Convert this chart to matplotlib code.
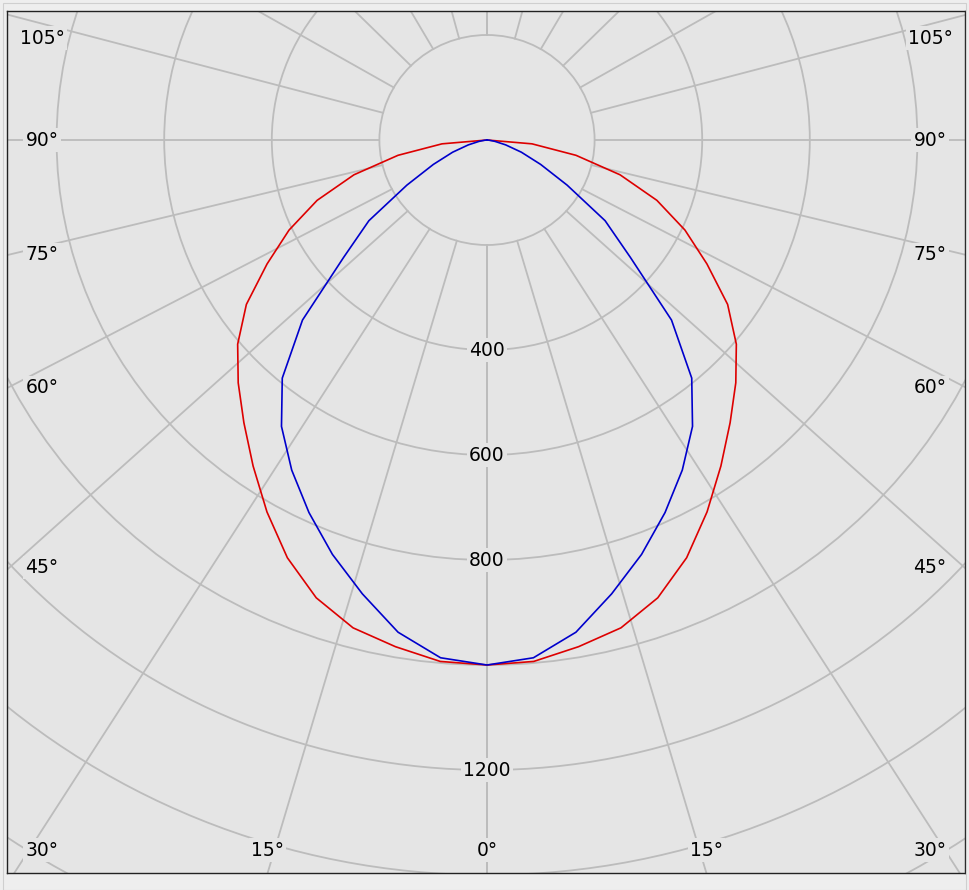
import numpy as np
import matplotlib.pyplot as plt
from matplotlib.patches import Ellipse, Rectangle

# luminous intensity (cd) per gamma angle
gamma = [0, 5, 10, 15, 20, 25, 30, 35, 40, 45, 50, 55, 60, 65, 70, 75, 80, 85, 90]
red_cd = [1000, 997, 980, 962, 928, 878, 818, 758, 703, 654, 605, 546, 472, 406, 336, 256, 168, 84, 0]
blue_cd = [1000, 990, 952, 895, 840, 783, 726, 666, 592, 485, 348, 268, 172, 110, 68, 36, 15, 4, 0]

ring_cd = [200, 400, 600, 800, 1000, 1200, 1400, 1600, 1800, 2000]
ring_labels = [400, 600, 800, 1200]
spoke_deg = [0, 15, 30, 45, 60, 75, 90, 105, 120, 135, 150, 165, 180]
label_deg = [0, 15, 30, 45, 60, 75, 90, 105]

BG = '#e5e5e5'
GRID = '#bcbcbc'
PXY = 0.525  # pixels per cd, vertical
PXX = 0.538  # pixels per cd, horizontal (reference is a touch wider)

fig = plt.figure(figsize=(9.69, 8.90), dpi=100, facecolor='#eeeeee')
ax = fig.add_axes([7 / 969, 17 / 890, 958 / 969, 862 / 890])
ax.set_facecolor(BG)
x0, x1 = -480 / PXX, 478 / PXX
y0, y1 = -733 / PXY, 129 / PXY
ax.set_xlim(x0, x1)
ax.set_ylim(y0, y1)
ax.set_xticks([])
ax.set_yticks([])
for s in ax.spines.values():
    s.set_color('#222222')
    s.set_linewidth(1.0)

# outer thin border of the window
fig.patches.append(Rectangle((3 / 969, 0), 1 - 6 / 969, 1 - 3 / 890, transform=fig.transFigure,
                             fill=False, edgecolor='#cfcfcf', linewidth=0.8))


def spoke_angle(a):
    # lower spokes are drawn a bit splayed in the reference
    if 0 < a < 90:
        return np.degrees(np.arctan(1.09 * np.tan(np.radians(a))))
    return a


for r in ring_cd:
    ax.add_patch(Ellipse((0, 0), 2 * r, 2 * r, fill=False, edgecolor=GRID, linewidth=1.3, zorder=1))

for a in spoke_deg:
    t = np.radians(spoke_angle(a))
    for sgn in (1, -1):
        ax.plot([sgn * 200 * np.sin(t), sgn * 3000 * np.sin(t)],
                [-200 * np.cos(t), -3000 * np.cos(t)], color=GRID, lw=1.3, zorder=1)

# curves, mirrored for the left half
g = np.radians(np.array(gamma, dtype=float))
for vals, col in ((red_cd, '#dd0000'), (blue_cd, '#0000cc')):
    v = np.array(vals, dtype=float)
    xs = np.concatenate([-v[::-1] * np.sin(g[::-1]), v[1:] * np.sin(g[1:])])
    ys = np.concatenate([-v[::-1] * np.cos(g[::-1]), -v[1:] * np.cos(g[1:])])
    ax.plot(xs, ys, color=col, lw=1.2, zorder=3)

box = dict(facecolor=BG, edgecolor='none', pad=1.5)
fs = 13.5

for r in ring_labels:
    ax.text(0, -r, str(r), ha='center', va='center', fontsize=fs, bbox=box, zorder=4)

# angle labels where the spokes leave the frame, kept inside it
lx0, lx1 = x0 + 35 / PXX, x1 - 35 / PXX
ly0, ly1 = y0 + 23 / PXY, y1 - 27 / PXY
for a in label_deg:
    t = np.radians(spoke_angle(a))
    dx, dy = np.sin(t), -np.cos(t)
    cand = []
    if dx > 1e-9:
        cand.append(x1 / dx)
    if dy < -1e-9:
        cand.append(y0 / dy)
    elif dy > 1e-9:
        cand.append(y1 / dy)
    s = min(cand)
    for sgn in ((1,) if a == 0 else (1, -1)):
        px = min(max(sgn * s * dx, lx0), lx1)
        py = min(max(s * dy, ly0), ly1)
        ax.text(px, py, '%d°' % a, ha='center', va='center', fontsize=fs, bbox=box, zorder=4)

fig.savefig('out.png', dpi=100, facecolor=fig.get_facecolor())
